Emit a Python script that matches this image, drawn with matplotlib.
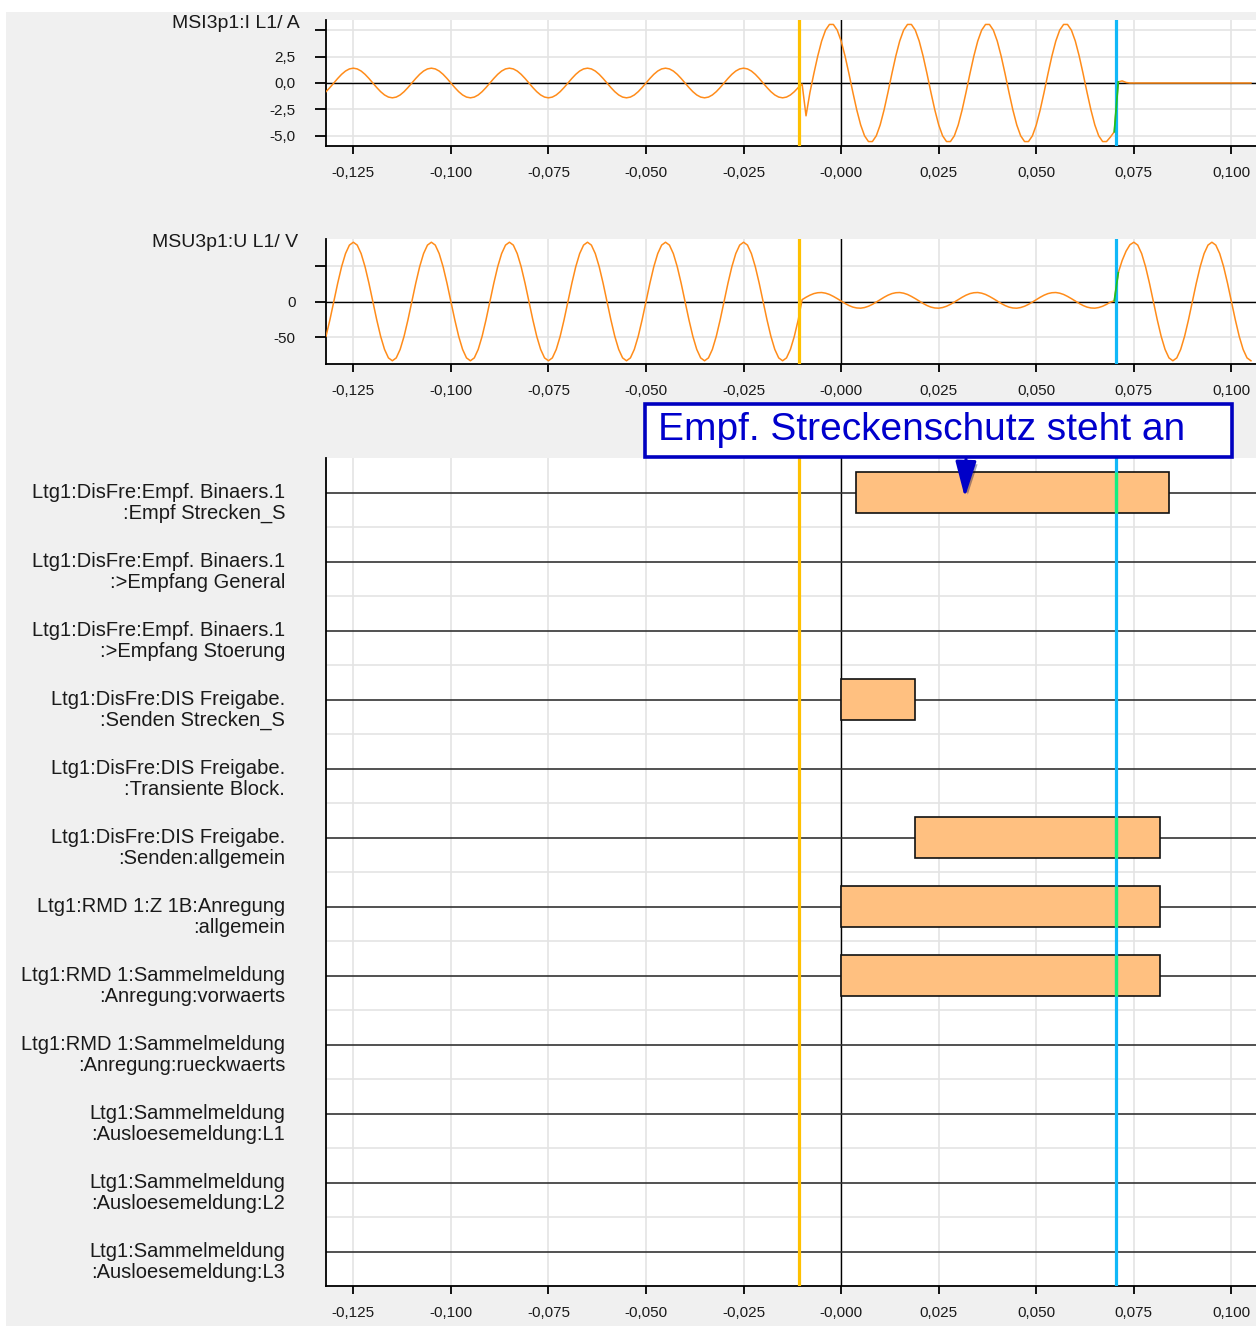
import numpy as np
import matplotlib
matplotlib.use("Agg")
import matplotlib.pyplot as plt
import matplotlib.transforms as mtransforms
import matplotlib.patheffects as pe
from matplotlib.patches import Rectangle

plt.rcParams['font.family'] = ['Liberation Sans', 'DejaVu Sans']

# Abtastwerte im 1 ms Raster, erster Wert bei -0,132 s
t_start = -0.132
t_step = 0.001

# MSI3p1:I L1 / A
strom_i = [
    -0.82, -0.43, 0.00, 0.43, 0.82, 1.13, 1.33,
    1.40, 1.33, 1.13, 0.82, 0.43, 0.00, -0.43, -0.82, -1.13, -1.33, -1.40, -1.33, -1.13, -0.82, -0.43, 0.00, 0.43, 0.82, 1.13, 1.33,
    1.40, 1.33, 1.13, 0.82, 0.43, 0.00, -0.43, -0.82, -1.13, -1.33, -1.40, -1.33, -1.13, -0.82, -0.43, 0.00, 0.43, 0.82, 1.13, 1.33,
    1.40, 1.33, 1.13, 0.82, 0.43, 0.00, -0.43, -0.82, -1.13, -1.33, -1.40, -1.33, -1.13, -0.82, -0.43, 0.00, 0.43, 0.82, 1.13, 1.33,
    1.40, 1.33, 1.13, 0.82, 0.43, 0.00, -0.43, -0.82, -1.13, -1.33, -1.40, -1.33, -1.13, -0.82, -0.43, 0.00, 0.43, 0.82, 1.13, 1.33,
    1.40, 1.33, 1.13, 0.82, 0.43, 0.00, -0.43, -0.82, -1.13, -1.33, -1.40, -1.33, -1.13, -0.82, -0.43, 0.00, 0.43, 0.82, 1.13, 1.33,
    1.40, 1.33, 1.13, 0.82, 0.43, 0.00, -0.43, -0.82, -1.13, -1.33, -1.40, -1.33, -1.13, -0.82, -0.43,
    -0.10, -3.10, -0.90,
    0.88, 2.54, 3.96, 4.99, 5.53, 5.53, 4.99, 3.96, 2.54, 0.88, -0.88, -2.54, -3.96, -4.99, -5.53, -5.53, -4.99, -3.96, -2.54, -0.88,
    0.88, 2.54, 3.96, 4.99, 5.53, 5.53, 4.99, 3.96, 2.54, 0.88, -0.88, -2.54, -3.96, -4.99, -5.53, -5.53, -4.99, -3.96, -2.54, -0.88,
    0.88, 2.54, 3.96, 4.99, 5.53, 5.53, 4.99, 3.96, 2.54, 0.88, -0.88, -2.54, -3.96, -4.99, -5.53, -5.53, -4.99, -3.96, -2.54, -0.88,
    0.88, 2.54, 3.96, 4.99, 5.53, 5.53, 4.99, 3.96, 2.54, 0.88, -0.88, -2.54, -3.96, -4.99, -5.53, -5.53, -5.10,
    -4.60,
    0.10, 0.20, 0.05,
    0.0, 0.0, 0.0, 0.0, 0.0, 0.0, 0.0, 0.0, 0.0, 0.0, 0.0, 0.0, 0.0, 0.0, 0.0, 0.0,
    0.0, 0.0, 0.0, 0.0, 0.0, 0.0, 0.0, 0.0, 0.0, 0.0, 0.0, 0.0, 0.0, 0.0, 0.0, 0.0,
]

# MSU3p1:U L1 / V
spannung_u = [
    -48.5, -25.5, 0.0, 25.5, 48.5, 66.7, 78.5,
    82.5, 78.5, 66.7, 48.5, 25.5, 0.0, -25.5, -48.5, -66.7, -78.5, -82.5, -78.5, -66.7, -48.5, -25.5, 0.0, 25.5, 48.5, 66.7, 78.5,
    82.5, 78.5, 66.7, 48.5, 25.5, 0.0, -25.5, -48.5, -66.7, -78.5, -82.5, -78.5, -66.7, -48.5, -25.5, 0.0, 25.5, 48.5, 66.7, 78.5,
    82.5, 78.5, 66.7, 48.5, 25.5, 0.0, -25.5, -48.5, -66.7, -78.5, -82.5, -78.5, -66.7, -48.5, -25.5, 0.0, 25.5, 48.5, 66.7, 78.5,
    82.5, 78.5, 66.7, 48.5, 25.5, 0.0, -25.5, -48.5, -66.7, -78.5, -82.5, -78.5, -66.7, -48.5, -25.5, 0.0, 25.5, 48.5, 66.7, 78.5,
    82.5, 78.5, 66.7, 48.5, 25.5, 0.0, -25.5, -48.5, -66.7, -78.5, -82.5, -78.5, -66.7, -48.5, -25.5, 0.0, 25.5, 48.5, 66.7, 78.5,
    82.5, 78.5, 66.7, 48.5, 25.5, 0.0, -25.5, -48.5, -66.7, -78.5, -82.5, -78.5, -66.7, -48.5, -25.5,
    2.6, 5.9, 8.8, 11.0, 12.2, 12.5, 11.6, 9.8, 7.1, 4.0, 0.6, -2.7, -5.6, -7.8, -9.0, -9.3, -8.4, -6.6, -4.0, -0.8,
    2.6, 5.9, 8.8, 11.0, 12.2, 12.5, 11.6, 9.8, 7.1, 4.0, 0.6, -2.7, -5.6, -7.8, -9.0, -9.3, -8.4, -6.6, -4.0, -0.8,
    2.6, 5.9, 8.8, 11.0, 12.2, 12.5, 11.6, 9.8, 7.1, 4.0, 0.6, -2.7, -5.6, -7.8, -9.0, -9.3, -8.4, -6.6, -4.0, -0.8,
    2.6, 5.9, 8.8, 11.0, 12.2, 12.5, 11.6, 9.8, 7.1, 4.0, 0.6, -2.7, -5.6, -7.8, -9.0, -9.3, -8.4, -6.6, -4.0, -0.8,
    1.0,
    40.0, 57.0, 70.0, 79.0,
    82.5, 78.5, 66.7, 48.5, 25.5, 0.0, -25.5, -48.5, -66.7, -78.5, -82.5,
    -78.5, -66.7, -48.5, -25.5, 0.0, 25.5, 48.5, 66.7, 78.5, 82.5,
    78.5, 66.7, 48.5, 25.5, 0.0, -25.5, -48.5, -66.7, -78.5, -82.5,
]

t = t_start + t_step * np.arange(len(strom_i))

# Binaerspuren
signal_namen = [
    "Ltg1:DisFre:Empf. Binaers.1\n:Empf Strecken_S",
    "Ltg1:DisFre:Empf. Binaers.1\n:>Empfang General",
    "Ltg1:DisFre:Empf. Binaers.1\n:>Empfang Stoerung",
    "Ltg1:DisFre:DIS Freigabe.\n:Senden Strecken_S",
    "Ltg1:DisFre:DIS Freigabe.\n:Transiente Block.",
    "Ltg1:DisFre:DIS Freigabe.\n:Senden:allgemein",
    "Ltg1:RMD 1:Z 1B:Anregung\n:allgemein",
    "Ltg1:RMD 1:Sammelmeldung\n:Anregung:vorwaerts",
    "Ltg1:RMD 1:Sammelmeldung\n:Anregung:rueckwaerts",
    "Ltg1:Sammelmeldung\n:Ausloesemeldung:L1",
    "Ltg1:Sammelmeldung\n:Ausloesemeldung:L2",
    "Ltg1:Sammelmeldung\n:Ausloesemeldung:L3",
]
balken_zeile = [0, 3, 5, 6, 7]
balken_start = [0.0039, 0.0, 0.0190, 0.0, 0.0]
balken_ende = [0.0839, 0.0190, 0.0816, 0.0816, 0.0816]

cursor_1 = -0.0107
cursor_2 = 0.0705

x_ticks = [-0.125, -0.100, -0.075, -0.050, -0.025, 0.0, 0.025, 0.050, 0.075, 0.100]
x_labels = ["-0,125", "-0,100", "-0,075", "-0,050", "-0,025", "-0,000", "0,025", "0,050", "0,075", "0,100"]
xlim = (-0.132, 0.1063)

W, H = 1256, 1326
fig = plt.figure(figsize=(W / 100, H / 100), dpi=100)
fig.patch.set_facecolor('#f0f0f0')
# weisse Raender oben und links
fig.add_artist(Rectangle((0, 1 - 12 / H), 1, 12 / H, transform=fig.transFigure,
                         facecolor='white', edgecolor='none', zorder=-5))
fig.add_artist(Rectangle((0, 0), 6 / W, 1, transform=fig.transFigure,
                         facecolor='white', edgecolor='none', zorder=-5))

ORANGE = '#ff8c1a'
GELB = '#ffc000'
CYAN = '#10b8f8'
GRUEN = '#10f080'
GRID = '#e4e4e4'
TXT = '#1a1a1a'

left = 326 / W
width = 930 / W


def achse(top_px, bottom_px):
    ax = fig.add_axes([left, 1 - bottom_px / H, width, (bottom_px - top_px) / H])
    ax.set_facecolor('white')
    ax.set_xlim(*xlim)
    ax.set_xticks(x_ticks)
    ax.set_xticklabels(x_labels)
    for s in ['top', 'right']:
        ax.spines[s].set_visible(False)
    for s in ['left', 'bottom']:
        ax.spines[s].set_linewidth(1.3)
    ax.tick_params(axis='x', length=6, width=1.3, pad=8.5, labelsize=11, labelcolor=TXT)
    ax.tick_params(axis='y', length=8, width=1.3, pad=14, labelsize=11, labelcolor=TXT)
    ax.grid(True, color=GRID, lw=1.2)
    ax.set_axisbelow(True)
    ax.axvline(0, color='black', lw=1.0, zorder=2)
    ax.axvline(cursor_1, color=GELB, lw=2.3, zorder=4)
    ax.axvline(cursor_2, color=CYAN, lw=2.3, zorder=4)
    return ax


def spur(ax, werte):
    ax.plot(t, werte, color=ORANGE, lw=1.1, zorder=3)
    ax.axhline(0, color='black', lw=1.0, zorder=2)
    i2 = np.searchsorted(t, cursor_2)
    ax.plot(t[i2 - 1:i2 + 1], werte[i2 - 1:i2 + 1], color='#20c020', lw=1.3, zorder=5)


# Strom
ax1 = achse(20, 146)
spur(ax1, np.array(strom_i))
ax1.set_ylim(-5.95, 5.95)
ax1.set_yticks([-5.0, -2.5, 0.0, 2.5, 5.0])
ax1.set_yticklabels(["-5,0", "-2,5", "0,0", "2,5", ""])
ax1.text(-0.028, 0.97, "MSI3p1:I L1/ A", transform=ax1.transAxes, ha='right', va='center',
         fontsize=14, color=TXT)

# Spannung
ax2 = achse(239, 364)
spur(ax2, np.array(spannung_u))
ax2.set_ylim(-87, 87)
ax2.set_yticks([-50, 0, 50])
ax2.set_yticklabels(["-50", "0", ""])
ax2.text(-0.030, 0.975, "MSU3p1:U L1/ V", transform=ax2.transAxes, ha='right', va='center',
         fontsize=14, color=TXT)

# Binaerspuren
ax3 = achse(458, 1286)
n = len(signal_namen)
ax3.set_ylim(n - 0.5, -0.5)
ax3.set_yticks(np.arange(n) + 0.5)
ax3.set_yticklabels([])
ax3.tick_params(axis='y', length=0)
for i in range(n):
    ax3.axhline(i, color='#333333', lw=1.2, zorder=2)
ax3.barh(balken_zeile, np.array(balken_ende) - np.array(balken_start), left=balken_start,
         height=0.6, color='#ffc080', edgecolor='#111111', lw=1.2, zorder=3)
for z, a, e in zip(balken_zeile, balken_start, balken_ende):
    if a < cursor_2 < e:
        ax3.vlines(cursor_2, z - 0.3, z + 0.3, color=GRUEN, lw=2.3, zorder=5)

trans = mtransforms.blended_transform_factory(ax3.transAxes, ax3.transData)
for i, name in enumerate(signal_namen):
    ax3.text(-0.044, i + 0.15, name, transform=trans, ha='right', va='center',
             multialignment='right', fontsize=14.5, linespacing=1.12, color=TXT)

# Hinweis
fig.add_artist(Rectangle((645 / W, 1 - 457 / H), 587 / W, 53 / H, transform=fig.transFigure,
                         facecolor='white', edgecolor='#0000c0', lw=2.6, zorder=2))
fig.text(922 / W, 1 - 430 / H, "Empf. Streckenschutz steht an", ha='center', va='center',
         fontsize=28, color='#0000cc', zorder=3)
pfeil = ax3.annotate("", xy=(0.0317, 0.07), xycoords='data',
                     xytext=(966 / W, 1 - 459 / H), textcoords='figure fraction',
                     arrowprops=dict(arrowstyle='-|>,head_length=1.1,head_width=0.32',
                                     mutation_scale=20, color='#0000c8', lw=2.2,
                                     shrinkA=0, shrinkB=0),
                     annotation_clip=False, zorder=6)
pfeil.arrow_patch.set_path_effects([pe.SimplePatchShadow(offset=(2, -2), alpha=0.35), pe.Normal()])

fig.savefig("out.png", dpi=100, facecolor=fig.get_facecolor())
